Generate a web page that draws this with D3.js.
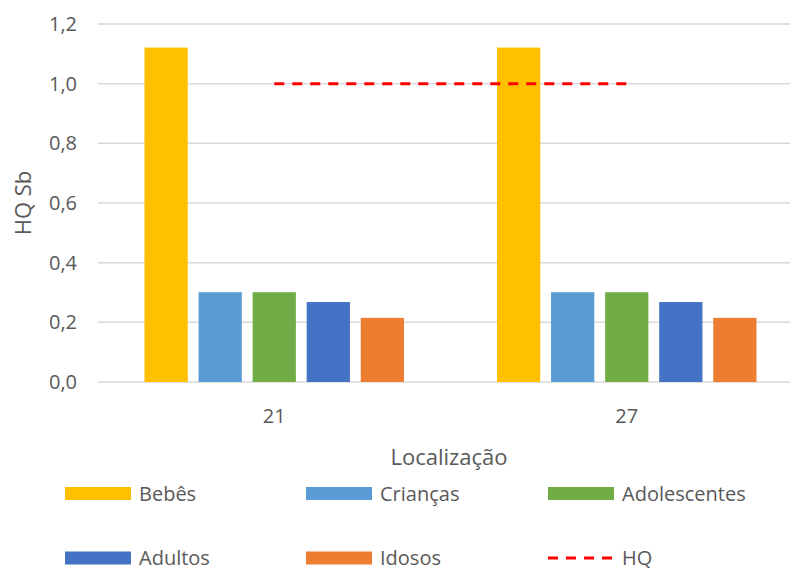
<!DOCTYPE html>
<html>
<head>
<meta charset="utf-8">
<script src="https://cdn.jsdelivr.net/npm/d3@7"></script>
<style>
  body { margin: 0; background: #fff; }
  svg text { font-family: "Open Sans", sans-serif; fill: #595959; }
</style>
</head>
<body>
<svg id="chart" width="790" height="571"></svg>
<script>
//////////////////// DATA ////////////////////
// locations on the x axis
const locations = ["21", "27"];
// age groups (series)
const groups = ["Bebês", "Crianças", "Adolescentes", "Adultos", "Idosos"];
// HQ values per location, in group order
const values21 = [1.121, 0.301, 0.301, 0.268, 0.215];
const values27 = [1.121, 0.301, 0.301, 0.268, 0.215];
// reference line
const hqValue = 1.0;
// y ticks
const yTicks = [0, 0.2, 0.4, 0.6, 0.8, 1.0, 1.2];

const colors = ["#ffc000", "#5b9bd5", "#70ad47", "#4472c4", "#ed7d31"];
const hqColor = "#ff0000";

const seriesByLocation = { "21": values21, "27": values27 };

//////////////////// SIZES ////////////////////
const svg = d3.select("#chart");
const plot = { left: 98, right: 803, top: 24, bottom: 382 };

//////////////////// SCALES ////////////////////
const x0 = d3.scaleBand()
    .domain(locations)
    .range([plot.left, plot.right])
    .padding(0);

const x1 = d3.scaleBand()
    .domain(groups)
    .range([46.5, x0.bandwidth() - 46.5])
    .paddingInner(0.2)
    .paddingOuter(0);

const y = d3.scaleLinear()
    .domain([0, 1.2])
    .range([plot.bottom, plot.top]);

//////////////////// GRID + Y AXIS ////////////////////
svg.append("g")
    .selectAll("line")
    .data(yTicks)
    .join("line")
    .attr("x1", plot.left)
    .attr("x2", 790)
    .attr("y1", d => y(d))
    .attr("y2", d => y(d))
    .attr("stroke", "#d9d9d9")
    .attr("stroke-width", 1.5);

const yAxis = d3.axisLeft(y)
    .tickValues(yTicks)
    .tickSize(0)
    .tickPadding(0)
    .tickFormat(d => d3.format(".1f")(d).replace(".", ","));

svg.append("g")
    .attr("transform", "translate(77,0)")
    .call(yAxis)
    .call(g => g.select(".domain").remove())
    .selectAll("text")
    .style("font-size", "20px")
    .attr("fill", "#595959");

// y label
svg.append("text")
    .attr("transform", `rotate(-90) translate(${-(plot.top + plot.bottom) / 2}, 31)`)
    .attr("text-anchor", "middle")
    .style("font-size", "22px")
    .text("HQ Sb");

//////////////////// BARS ////////////////////
const locGroups = svg.append("g")
    .selectAll("g")
    .data(locations)
    .join("g")
    .attr("transform", d => `translate(${x0(d)},0)`);

locGroups.selectAll("rect")
    .data(loc => groups.map((g, i) => ({ group: g, value: seriesByLocation[loc][i], i })))
    .join("rect")
    .attr("x", d => x1(d.group))
    .attr("width", x1.bandwidth())
    .attr("y", d => y(d.value))
    .attr("height", d => y(0) - y(d.value))
    .attr("fill", d => colors[d.i]);

//////////////////// HQ LINE ////////////////////
const hqLine = d3.line()
    .x(d => x0(d) + x0.bandwidth() / 2)
    .y(() => y(hqValue));

svg.append("path")
    .datum(locations)
    .attr("d", hqLine)
    .attr("fill", "none")
    .attr("stroke", hqColor)
    .attr("stroke-width", 3)
    .attr("stroke-dasharray", "10,8");

//////////////////// X AXIS ////////////////////
const xAxis = d3.axisBottom(x0).tickSize(0).tickPadding(0);
svg.append("g")
    .attr("transform", `translate(0,${plot.bottom + 27})`)
    .call(xAxis)
    .call(g => g.select(".domain").remove())
    .selectAll("text")
    .attr("dy", 0)
    .attr("y", 14)
    .style("font-size", "20px")
    .attr("fill", "#595959");

svg.append("text")
    .attr("x", 449)
    .attr("y", 465)
    .attr("text-anchor", "middle")
    .style("font-size", "22px")
    .text("Localização");

//////////////////// LEGEND ////////////////////
const legendItems = groups.map((g, i) => ({ name: g, color: colors[i], type: "bar" }))
    .concat([{ name: "HQ", color: hqColor, type: "line" }]);
const legendCols = [65, 306, 548];
const legendRows = [493.5, 558];

const legend = svg.append("g")
    .selectAll("g")
    .data(legendItems)
    .join("g")
    .attr("transform", (d, i) => `translate(${legendCols[i % 3]},${legendRows[Math.floor(i / 3)]})`);

legend.filter(d => d.type === "bar")
    .append("rect")
    .attr("x", 0)
    .attr("y", -6.5)
    .attr("width", 66)
    .attr("height", 13)
    .attr("fill", d => d.color);

legend.filter(d => d.type === "line")
    .append("line")
    .attr("x1", 0)
    .attr("x2", 66)
    .attr("stroke", d => d.color)
    .attr("stroke-width", 3)
    .attr("stroke-dasharray", "10,8");

legend.append("text")
    .attr("x", 74)
    .attr("y", 7)
    .style("font-size", "20px")
    .text(d => d.name);
</script>
</body>
</html>
